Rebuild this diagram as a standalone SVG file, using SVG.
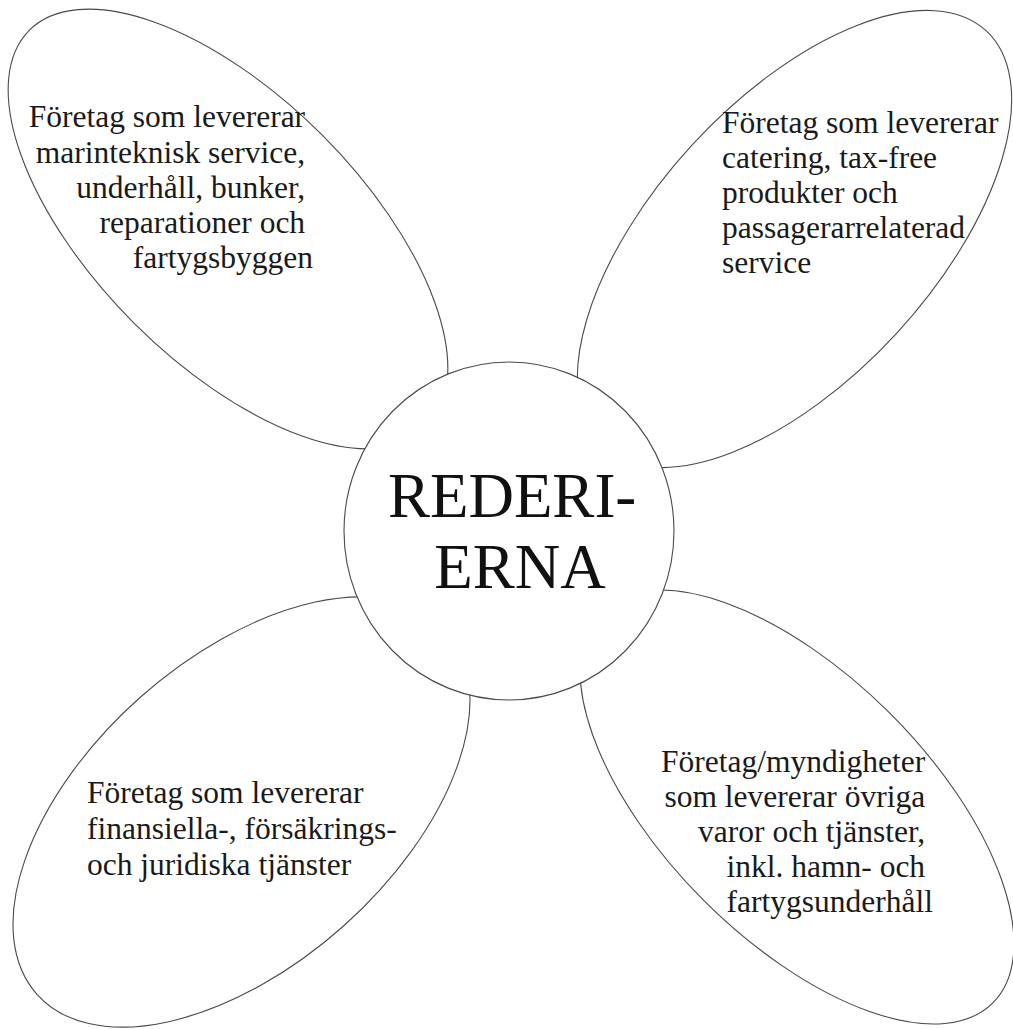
<svg xmlns="http://www.w3.org/2000/svg" width="1013" height="1029" viewBox="0 0 1013 1029">
  <style>
    .petal { fill: #ffffff; stroke: #4a4a4a; stroke-width: 1.1; }
    .hub { fill: #ffffff; stroke: #4a4a4a; stroke-width: 1.1; }
    .label { font-family: "Liberation Serif", "Times New Roman", serif; font-size: 31.5px; fill: #1a1a1a; }
    .title { font-family: "Liberation Serif", "Times New Roman", serif; font-size: 63px; fill: #111111; text-anchor: middle; }
  </style>
  <rect x="0" y="0" width="1013" height="1029" fill="#ffffff"/>

  <!-- petal: upper left -->
  <g id="petal-marin">
    <ellipse class="petal" cx="228" cy="229" rx="281" ry="133" transform="rotate(45 228 229)"/>
    <text class="label" text-anchor="end">
      <tspan x="313" y="127">Företag som levererar</tspan>
      <tspan x="313" y="162.5">marinteknisk service,</tspan>
      <tspan x="313" y="198">underhåll, bunker,</tspan>
      <tspan x="313" y="233">reparationer och</tspan>
      <tspan x="313" y="268">fartygsbyggen</tspan>
    </text>
  </g>

  <!-- petal: upper right -->
  <g id="petal-catering">
    <ellipse class="petal" cx="794.5" cy="239" rx="283" ry="139" transform="rotate(-47.4 794.5 239)"/>
    <text class="label" text-anchor="start">
      <tspan x="722" y="133">Företag som levererar</tspan>
      <tspan x="722" y="168">catering, tax-free</tspan>
      <tspan x="722" y="203">produkter och</tspan>
      <tspan x="722" y="238">passagerarrelaterad</tspan>
      <tspan x="722" y="273">service</tspan>
    </text>
  </g>

  <!-- petal: lower left -->
  <g id="petal-finans">
    <ellipse class="petal" cx="241.5" cy="812" rx="274" ry="153" transform="rotate(-41.7 241.5 812)"/>
    <text class="label" text-anchor="start">
      <tspan x="87" y="803">Företag som levererar</tspan>
      <tspan x="87" y="839">finansiella-, försäkrings-</tspan>
      <tspan x="87" y="875">och juridiska tjänster</tspan>
    </text>
  </g>

  <!-- petal: lower right -->
  <g id="petal-ovriga">
    <ellipse class="petal" cx="797" cy="807" rx="277" ry="132" transform="rotate(45 797 807)"/>
    <text class="label" text-anchor="end">
      <tspan x="933" y="772">Företag/myndigheter</tspan>
      <tspan x="933" y="807">som levererar övriga</tspan>
      <tspan x="933" y="842">varor och tjänster,</tspan>
      <tspan x="933" y="877">inkl. hamn- och</tspan>
      <tspan x="933" y="912">fartygsunderhåll</tspan>
    </text>
  </g>

  <!-- central hub, drawn last so it covers the petal ends -->
  <g id="hub-rederierna">
    <ellipse class="hub" cx="509" cy="531" rx="165" ry="169"/>
    <text class="title">
      <tspan x="520" y="517">REDERI-</tspan>
      <tspan x="520" y="588">ERNA</tspan>
    </text>
  </g>

  <g id="connectors"/>
</svg>
